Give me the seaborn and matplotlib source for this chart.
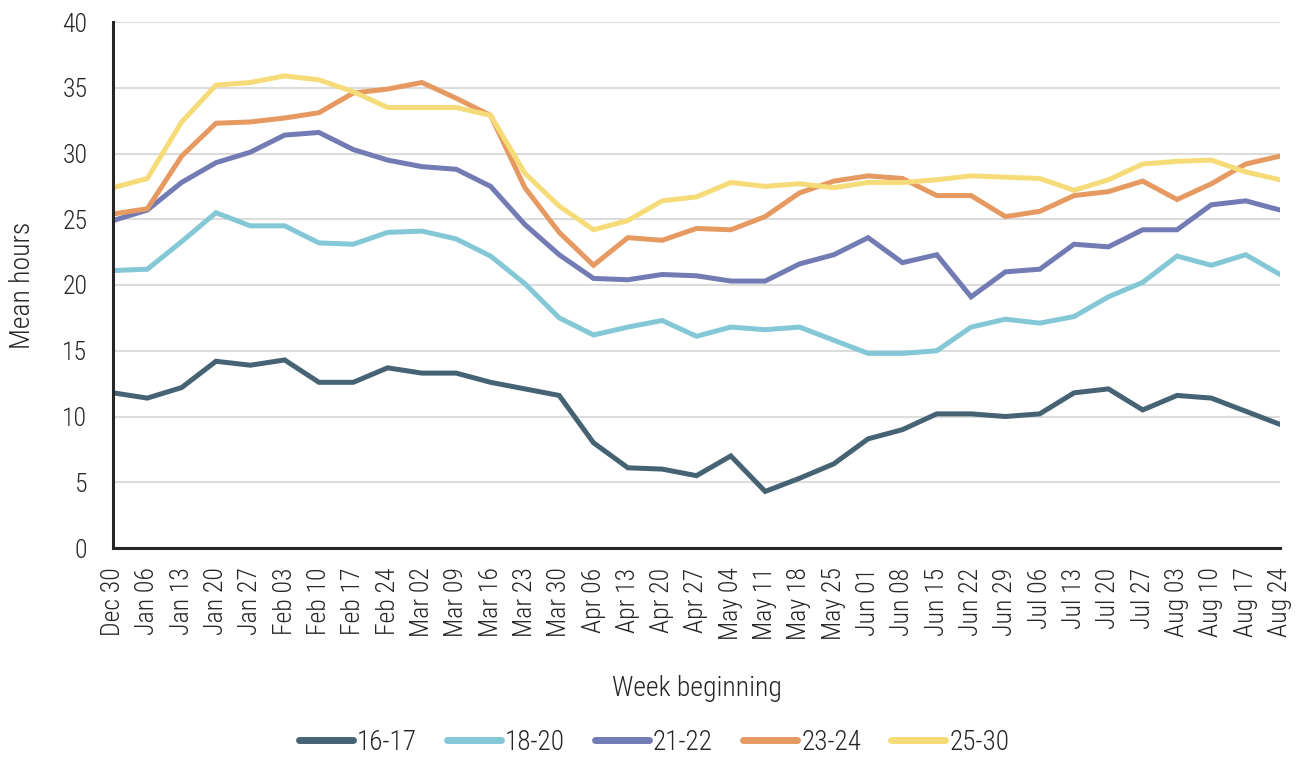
import matplotlib
matplotlib.use("Agg")
import matplotlib.pyplot as plt
from matplotlib import font_manager
import seaborn as sns
import pandas as pd

weeks = ["Dec 30", "Jan 06", "Jan 13", "Jan 20", "Jan 27", "Feb 03", "Feb 10",
         "Feb 17", "Feb 24", "Mar 02", "Mar 09", "Mar 16", "Mar 23", "Mar 30",
         "Apr 06", "Apr 13", "Apr 20", "Apr 27", "May 04", "May 11", "May 18",
         "May 25", "Jun 01", "Jun 08", "Jun 15", "Jun 22", "Jun 29", "Jul 06",
         "Jul 13", "Jul 20", "Jul 27", "Aug 03", "Aug 10", "Aug 17", "Aug 24"]

age_16_17 = [11.8, 11.4, 12.2, 14.2, 13.9, 14.3, 12.6, 12.6, 13.7, 13.3, 13.3, 12.6,
             12.1, 11.6, 8.0, 6.1, 6.0, 5.5, 7.0, 4.3, 5.3, 6.4, 8.3, 9.0, 10.2,
             10.2, 10.0, 10.2, 11.8, 12.1, 10.5, 11.6, 11.4, 10.4, 9.4]
age_18_20 = [21.1, 21.2, 23.3, 25.5, 24.5, 24.5, 23.2, 23.1, 24.0, 24.1, 23.5, 22.2,
             20.1, 17.5, 16.2, 16.8, 17.3, 16.1, 16.8, 16.6, 16.8, 15.8, 14.8, 14.8,
             15.0, 16.8, 17.4, 17.1, 17.6, 19.1, 20.2, 22.2, 21.5, 22.3, 20.8]
age_21_22 = [24.9, 25.7, 27.8, 29.3, 30.1, 31.4, 31.6, 30.3, 29.5, 29.0, 28.8, 27.5,
             24.6, 22.3, 20.5, 20.4, 20.8, 20.7, 20.3, 20.3, 21.6, 22.3, 23.6, 21.7,
             22.3, 19.1, 21.0, 21.2, 23.1, 22.9, 24.2, 24.2, 26.1, 26.4, 25.7]
age_23_24 = [25.4, 25.8, 29.8, 32.3, 32.4, 32.7, 33.1, 34.6, 34.9, 35.4, 34.2, 32.9,
             27.4, 24.0, 21.5, 23.6, 23.4, 24.3, 24.2, 25.2, 27.0, 27.9, 28.3, 28.1,
             26.8, 26.8, 25.2, 25.6, 26.8, 27.1, 27.9, 26.5, 27.7, 29.2, 29.8]
age_25_30 = [27.4, 28.1, 32.4, 35.2, 35.4, 35.9, 35.6, 34.7, 33.5, 33.5, 33.5, 32.9,
             28.5, 26.0, 24.2, 24.9, 26.4, 26.7, 27.8, 27.5, 27.7, 27.4, 27.8, 27.8,
             28.0, 28.3, 28.2, 28.1, 27.2, 28.0, 29.2, 29.4, 29.5, 28.6, 28.0]

groups = ["16-17", "18-20", "21-22", "23-24", "25-30"]
colors = ["#466374", "#84c8d7", "#727bb3", "#e69a61", "#f6dc78"]

series = [age_16_17, age_18_20, age_21_22, age_23_24, age_25_30]
frames = []
for name, vals in zip(groups, series):
    frames.append(pd.DataFrame({"week": range(len(weeks)), "hours": vals, "group": name}))
df = pd.concat(frames, ignore_index=True)

sns.set_theme(style="white")

# narrow, light sans face for all text
installed = {f.name for f in font_manager.fontManager.ttflist}
narrow = [n for n in ["Liberation Sans Narrow", "Roboto Condensed"] if n in installed]
plt.rcParams["font.family"] = narrow + ["DejaVu Sans"]
plt.rcParams["font.weight"] = "light"
plt.rcParams["axes.labelweight"] = "light"
text_color = "#262626"

fig = plt.figure(figsize=(13.08, 7.58), dpi=100)
ax = fig.add_axes([113 / 1308, 1 - 548 / 758, (1280 - 113) / 1308, (548 - 22) / 758])

sns.lineplot(data=df, x="week", y="hours", hue="group", hue_order=groups,
             palette=colors, linewidth=3.6, ax=ax, legend=False,
             solid_joinstyle="miter")

ax.set_xlim(0, len(weeks) - 1)
ax.set_ylim(0, 40)
ax.set_yticks(range(0, 41, 5))
ax.set_xticks(range(len(weeks)))
ax.set_xticklabels(weeks, rotation=90, fontsize=18.5, color=text_color)
ax.tick_params(axis="y", labelsize=18.5, labelcolor=text_color, length=6.5, pad=12)
ax.tick_params(axis="x", length=6, pad=8)
ax.tick_params(axis="both", direction="out", width=1.8, color="#262626")
ax.yaxis.grid(True, color="#dcdcdc", linewidth=1.5)
ax.set_axisbelow(True)

for side in ["top", "right"]:
    ax.spines[side].set_visible(False)
for side in ["left", "bottom"]:
    ax.spines[side].set_color("#262626")
    ax.spines[side].set_linewidth(2.2)

ax.set_xlabel("Week beginning", fontsize=20, color=text_color, fontweight="light")
ax.set_ylabel("Mean hours", fontsize=20, color=text_color, fontweight="light")
ax.xaxis.set_label_coords(0.5, (548 - 675) / 526)
ax.yaxis.set_label_coords((36 - 113) / 1167, 0.5)

handles = [plt.Line2D([], [], color=c, linewidth=5, solid_capstyle="round") for c in colors]
fig.legend(handles, groups, loc="center", bbox_to_anchor=(0.5, 1 - 742 / 758),
           ncol=5, frameon=False, prop={"size": 19.5, "weight": "light"},
           handlelength=2.0, handletextpad=0.15, columnspacing=1.1,
           labelcolor=text_color)

fig.savefig("out.png", dpi=100)
